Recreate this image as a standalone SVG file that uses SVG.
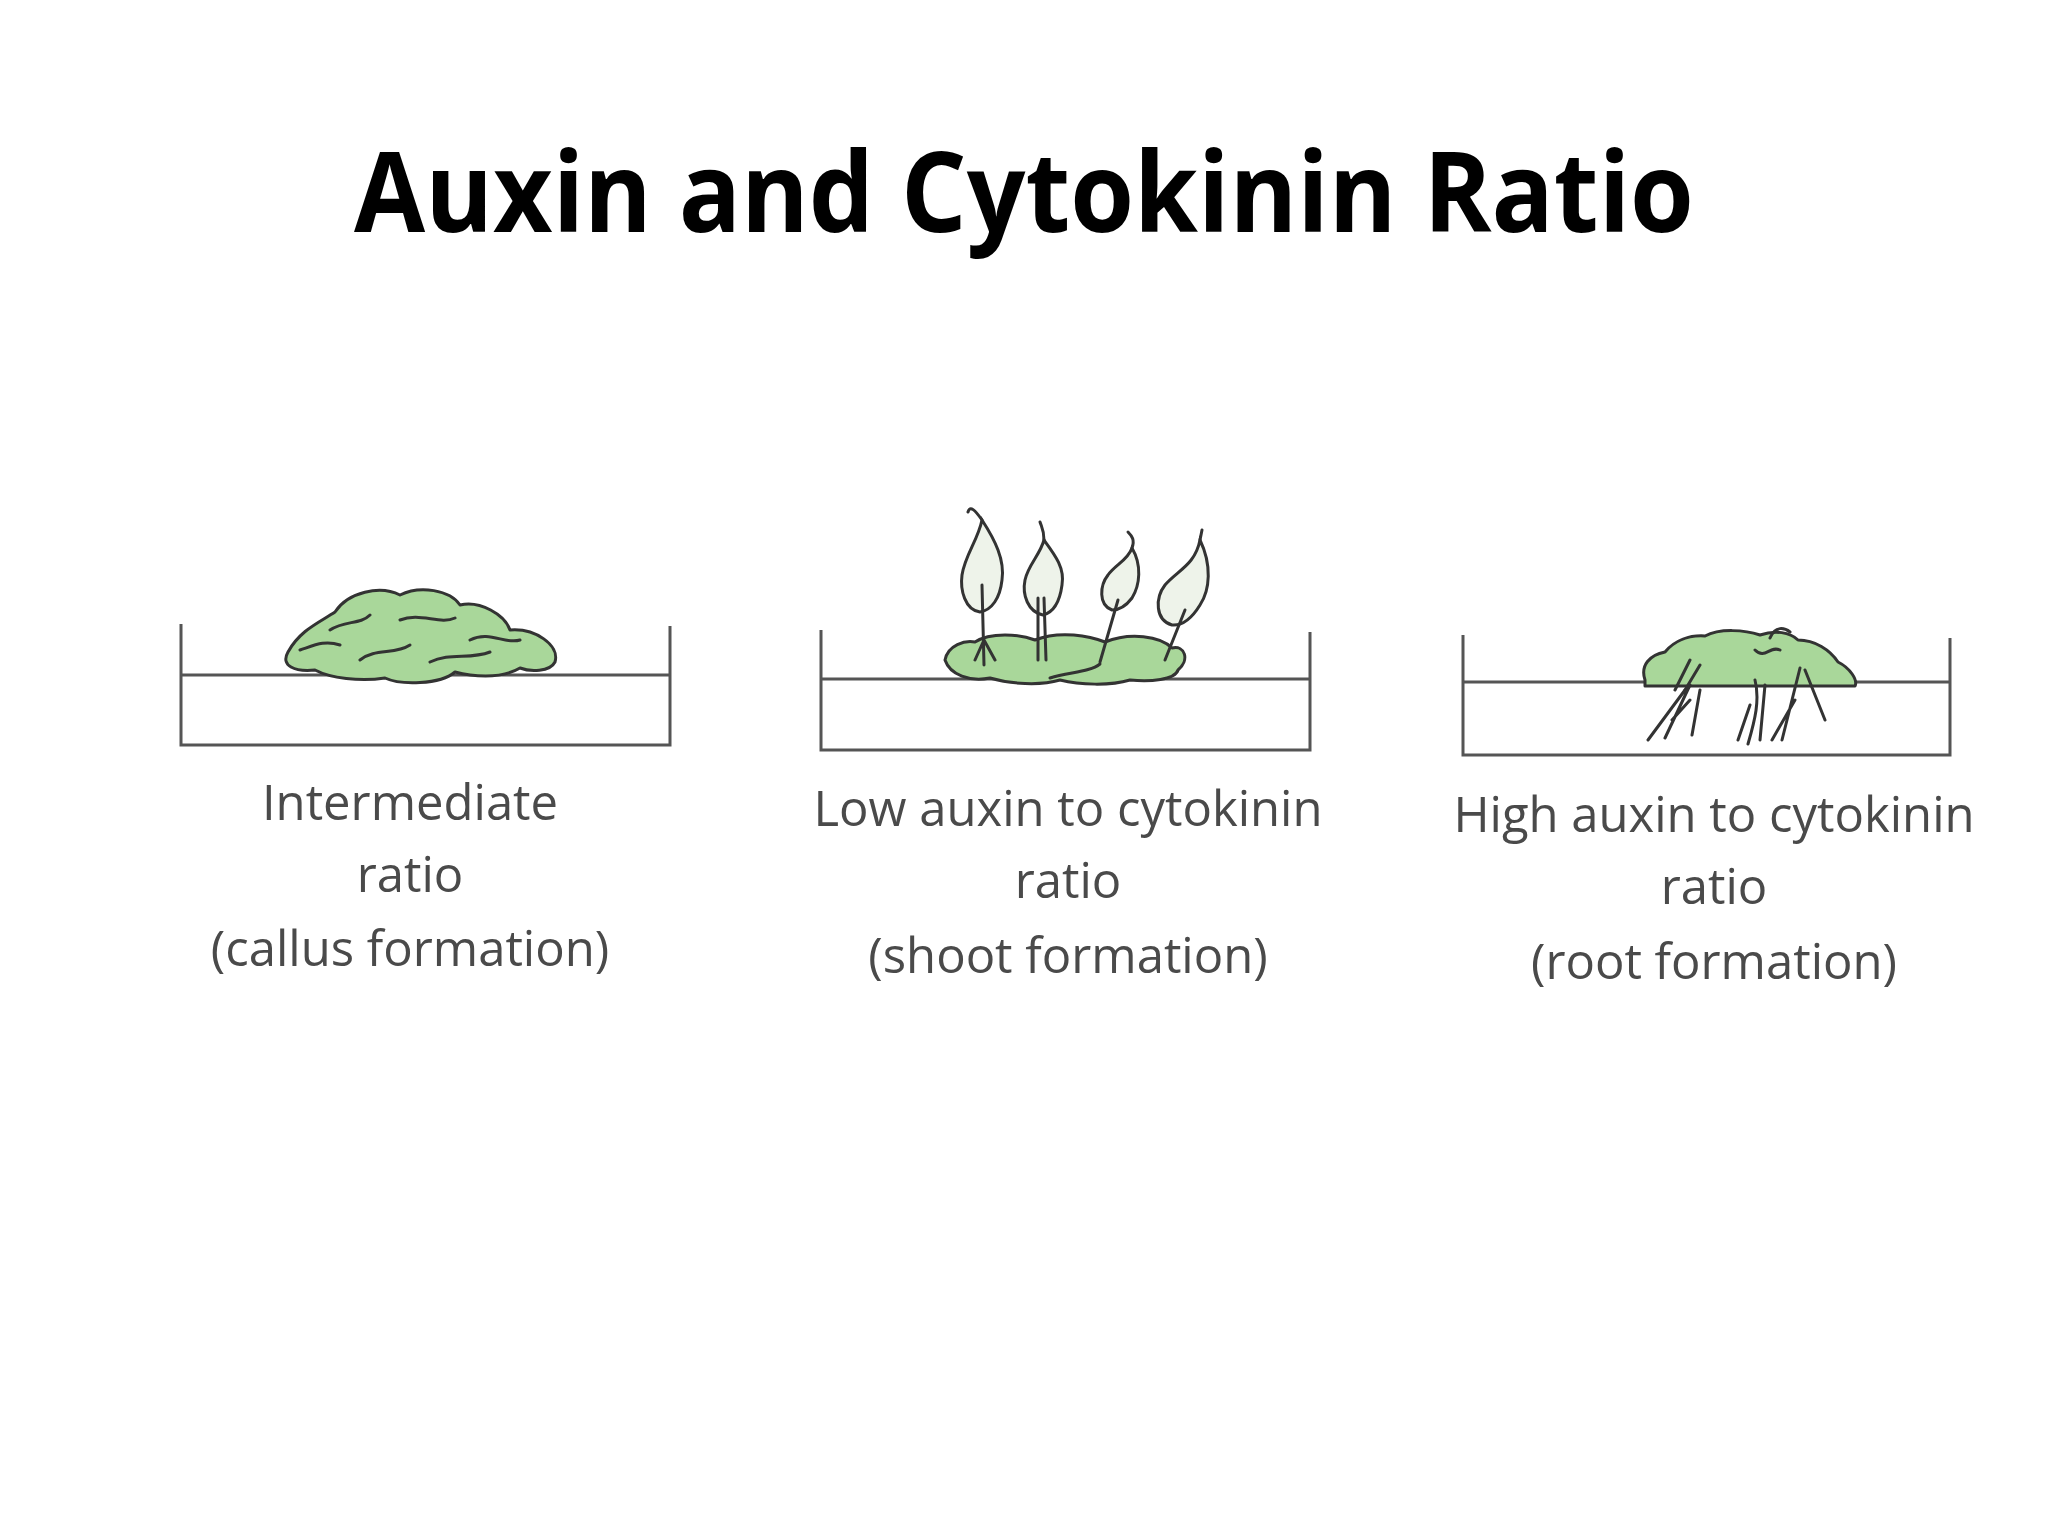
<svg xmlns="http://www.w3.org/2000/svg" width="2048" height="1536" viewBox="0 0 2048 1536">
<style>
.t{font-family:"Open Sans","Liberation Sans",sans-serif;font-weight:bold;fill:#000}
.l{font-family:"Open Sans","Liberation Sans",sans-serif;font-size:49px;fill:#4a4a4a;text-anchor:middle}
.d{fill:none;stroke:#555;stroke-width:3}
.c{fill:#a9d79a;stroke:#333;stroke-width:3;stroke-linejoin:round}
.v{fill:none;stroke:#333;stroke-width:3;stroke-linecap:round}
.lf{fill:#eef3ea;stroke:#333;stroke-width:3}
</style>
<rect width="2048" height="1536" fill="#fff"/>
<text class="t" x="1024" y="232" font-size="112" text-anchor="middle" textLength="1340" lengthAdjust="spacingAndGlyphs">Auxin and Cytokinin Ratio</text>
<g id="dish1">
<path class="d" d="M181 624 V745 H670 V626 M181 675 H670"/>
<path class="c" d="M288 652 C300 630 320 622 335 612 C348 592 380 585 400 595 C420 585 450 590 460 605 C480 600 505 615 510 630 C535 628 560 645 555 662 C550 672 530 672 520 668 C500 680 470 676 455 672 C440 685 400 685 385 678 C360 682 330 678 315 670 C295 672 280 666 288 652 Z"/>
<path class="v" d="M330 630 C345 620 360 625 370 615 M400 620 C420 612 440 625 455 618 M470 640 C490 630 505 645 520 640 M360 660 C375 648 395 655 410 645 M430 662 C450 652 470 660 490 652 M300 650 C315 645 325 640 340 645"/>
</g>
<g id="dish2">
<path class="d" d="M821 630 V750 H1310 V632 M821 679 H1310"/>
<path class="c" d="M945 660 C948 645 965 640 975 642 C990 632 1020 634 1035 640 C1060 630 1090 636 1105 642 C1130 632 1160 636 1172 648 C1185 645 1190 660 1178 670 C1175 680 1150 682 1130 680 C1110 686 1080 685 1060 680 C1040 686 1010 684 990 678 C970 682 950 675 945 660 Z"/>
<path class="v" d="M1050 678 C1070 672 1090 672 1100 664"/>
<path class="lf" d="M980 612 C965 610 960 590 962 575 C965 555 978 540 982 520 C995 540 1005 560 1002 580 C1000 598 992 610 980 612 Z"/>
<path class="v" d="M982 520 C975 510 970 505 968 512 M982 585 L984 665 M984 640 L995 660 M984 640 L975 660"/>
<path class="lf" d="M1043 615 C1028 612 1022 595 1025 580 C1028 565 1040 555 1044 540 C1055 555 1065 568 1062 585 C1060 600 1055 612 1043 615 Z"/>
<path class="v" d="M1044 540 C1044 530 1042 528 1040 522 M1038 598 L1038 660 M1044 598 L1046 660"/>
<path class="lf" d="M1112 610 C1098 605 1100 585 1108 575 C1115 565 1128 560 1132 548 C1142 565 1140 585 1132 598 C1126 606 1120 610 1112 610 Z"/>
<path class="v" d="M1132 548 C1135 540 1132 536 1128 532 M1118 600 L1100 662"/>
<path class="lf" d="M1172 625 C1155 620 1155 598 1165 585 C1178 570 1195 565 1200 540 C1212 565 1210 590 1200 605 C1192 618 1183 626 1172 625 Z"/>
<path class="v" d="M1200 540 L1202 530 M1185 610 L1165 660"/>
</g>
<g id="dish3">
<path class="d" d="M1463 635 V755 H1950 V638 M1463 682 H1950"/>
<path class="c" d="M1645 680 C1640 665 1650 655 1665 652 C1675 640 1690 635 1705 636 C1720 628 1745 630 1760 635 C1775 630 1790 632 1798 640 C1815 640 1830 650 1838 662 C1850 668 1858 680 1855 686 L1645 686 Z"/>
<path class="v" d="M1690 660 L1675 690 M1700 665 L1685 690 M1770 638 C1775 625 1785 628 1790 632 M1755 650 C1765 660 1770 645 1780 650"/>
<path class="v" d="M1690 685 L1665 738 M1685 690 L1648 740 M1700 690 L1692 735 M1690 700 L1672 720 M1755 680 C1760 700 1755 720 1748 744 M1765 685 L1760 740 M1750 705 L1738 740 M1800 668 L1782 740 M1805 670 L1825 720 M1795 700 L1772 740"/>
</g>
<g id="labels">
<text class="l" x="410" y="820">Intermediate</text>
<text class="l" x="410" y="892">ratio</text>
<text class="l" x="410" y="966">(callus formation)</text>
<text class="l" x="1068" y="826">Low auxin to cytokinin</text>
<text class="l" x="1068" y="898">ratio</text>
<text class="l" x="1068" y="973">(shoot formation)</text>
<text class="l" x="1714" y="832">High auxin to cytokinin</text>
<text class="l" x="1714" y="904">ratio</text>
<text class="l" x="1714" y="979">(root formation)</text>
</g>
</svg>
